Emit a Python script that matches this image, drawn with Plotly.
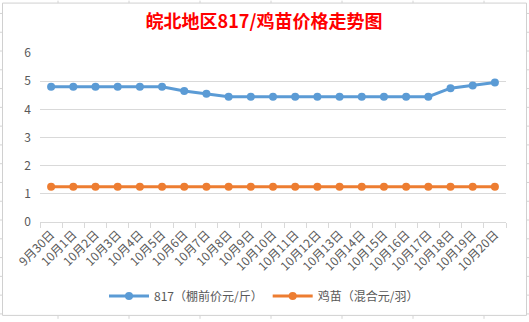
import plotly.graph_objects as go

# Date categories (9月30日 through 10月20日)
dates = ["9月30日"] + [f"10月{d}日" for d in range(1, 21)]

# 817 pre-shed price (元/斤)
price_817 = [4.8, 4.8, 4.8, 4.8, 4.8, 4.8, 4.65, 4.55, 4.45, 4.45, 4.45,
             4.45, 4.45, 4.45, 4.45, 4.45, 4.45, 4.45, 4.75, 4.85, 4.95]
# Chick price, mixed (元/羽)
price_chick = [1.25] * 21

name_817 = "817（棚前价元/斤）"
name_chick = "鸡苗（混合元/羽）"

BLUE = "#5B9BD5"
ORANGE = "#ED7D31"
GRAY_TXT = "#595959"
GRID = "#D9D9D9"
FONT = "Noto Sans CJK SC"

W, H = 529, 322
L, R, T, B = 40, 23, 53, 98
pw, ph = W - L - R, H - T - B


def px_x(x):
    return (x - L) / pw


def px_y(y):
    return (H - B - y) / ph


fig = go.Figure()
fig.add_trace(go.Scatter(
    x=dates, y=price_817, name=name_817, mode="lines+markers",
    line=dict(color=BLUE, width=3), marker=dict(color=BLUE, size=8),
))
fig.add_trace(go.Scatter(
    x=dates, y=price_chick, name=name_chick, mode="lines+markers",
    line=dict(color=ORANGE, width=3), marker=dict(color=ORANGE, size=8),
))

shapes = []
# chart area border
shapes.append(dict(type="rect", xref="paper", yref="paper",
                   x0=px_x(2.5), x1=px_x(526.5), y0=px_y(318.5), y1=px_y(2.5),
                   line=dict(color="#D0D0D0", width=1), fillcolor="rgba(0,0,0,0)",
                   layer="below"))
# worksheet gridlines peeking around the chart
for gx in [58, 129, 200, 271, 342, 413, 484]:
    shapes.append(dict(type="line", xref="paper", yref="paper",
                       x0=px_x(gx), x1=px_x(gx), y0=px_y(0), y1=px_y(2.5),
                       line=dict(color="#D4D4D4", width=1)))
    shapes.append(dict(type="line", xref="paper", yref="paper",
                       x0=px_x(gx), x1=px_x(gx), y0=px_y(318.5), y1=px_y(322),
                       line=dict(color="#D4D4D4", width=1)))
for gy in range(13, 322, 19):
    shapes.append(dict(type="line", xref="paper", yref="paper",
                       x0=px_x(0), x1=px_x(2.5), y0=px_y(gy), y1=px_y(gy),
                       line=dict(color="#D4D4D4", width=1)))
    shapes.append(dict(type="line", xref="paper", yref="paper",
                       x0=px_x(526.5), x1=px_x(529), y0=px_y(gy), y1=px_y(gy),
                       line=dict(color="#D4D4D4", width=1)))

fig.update_layout(
    width=W, height=H,
    margin=dict(l=L, r=R, t=T, b=B),
    paper_bgcolor="white", plot_bgcolor="white",
    font=dict(family=FONT, color=GRAY_TXT, size=12),
    title=dict(text="<b>皖北地区817/鸡苗价格走势图</b>",
               font=dict(family=FONT, color="#FF0000", size=18),
               x=px_x(264) * pw / W + L / W, xanchor="center",
               y=1 - 22 / H, yanchor="middle"),
    xaxis=dict(type="category", tickangle=-45, tickson="boundaries",
               ticks="outside", ticklen=5, tickcolor=GRID,
               showline=True, linecolor=GRID, linewidth=1,
               showgrid=False, tickfont=dict(size=12, color=GRAY_TXT),
               range=[-0.5, len(dates) - 0.5]),
    yaxis=dict(range=[0, 6], dtick=1, showgrid=True, gridcolor=GRID,
               gridwidth=1, zeroline=False, showline=False,
               tickfont=dict(size=12, color=GRAY_TXT), ticks="",
               ticklabelstandoff=8),
    legend=dict(orientation="h", x=px_x(264), xanchor="center",
                y=px_y(299), yanchor="middle",
                font=dict(size=12, color=GRAY_TXT),
                itemwidth=40, bgcolor="rgba(0,0,0,0)"),
    shapes=shapes,
    showlegend=True,
)

fig.write_html("out.html")
